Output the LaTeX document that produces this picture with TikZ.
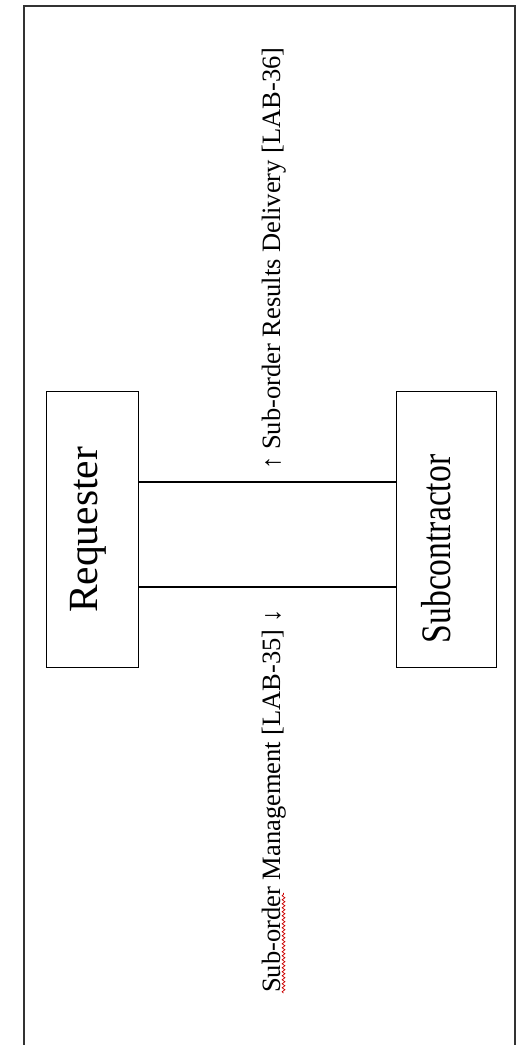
\documentclass[tikz,border=0pt]{standalone}
\usepackage{fontspec}
\setmainfont{Liberation Serif}
\usetikzlibrary{decorations.pathmorphing}
\begin{document}
\begin{tikzpicture}[x=1pt,y=1pt,
  frame/.style={line width=1.3pt, draw=black!80},
  entity/.style={draw=black, line width=1pt, rectangle, inner sep=0pt},
  link/.style={draw=black, line width=2pt},
  lbl/.style={rotate=90, anchor=base west, inner sep=0pt, font=\fontsize{26.5}{30}\selectfont},
  squiggle/.style={draw=red!80!black, line width=0.7pt, decorate, decoration={snake, segment length=4pt, amplitude=1.4pt}}]
\useasboundingbox (0,0) rectangle (519,1045);
\draw[frame] (24,0) -- (24,1039) -- (515,1039) -- (515,0);
% boxes
\node[entity, minimum width=92pt, minimum height=276pt] (req) at (92,515) {};
\node[entity, minimum width=100pt, minimum height=276pt] (sub) at (446,515) {};
% box texts
\node[rotate=90, anchor=base, inner sep=0pt, font=\fontsize{41.5}{45}\selectfont] (reqtext) at (97,515) {Requester};
\node[rotate=90, anchor=base, inner sep=0pt, font=\fontsize{42}{46}\selectfont] (subtext) at (450,496) {\scalebox{0.8}[1]{Subcontractor}};
% connectors
\draw[link] ([yshift=48pt]req.east) -- ([yshift=48pt]sub.west);
\draw[link] ([yshift=-57pt]req.east) -- ([yshift=-57pt]sub.west);
% labels
\node[lbl] (mgmt) at (280,52) {Sub-order Management [LAB-35] ↓};
\node[lbl] (deliv) at (280,575) {↑ Sub-order Results Delivery [LAB-36]};
\coordinate (sqa) at (283.5,52);
\coordinate (sqb) at (283.5,152);
\draw[squiggle] (sqa) -- (sqb);
\end{tikzpicture}
\end{document}
